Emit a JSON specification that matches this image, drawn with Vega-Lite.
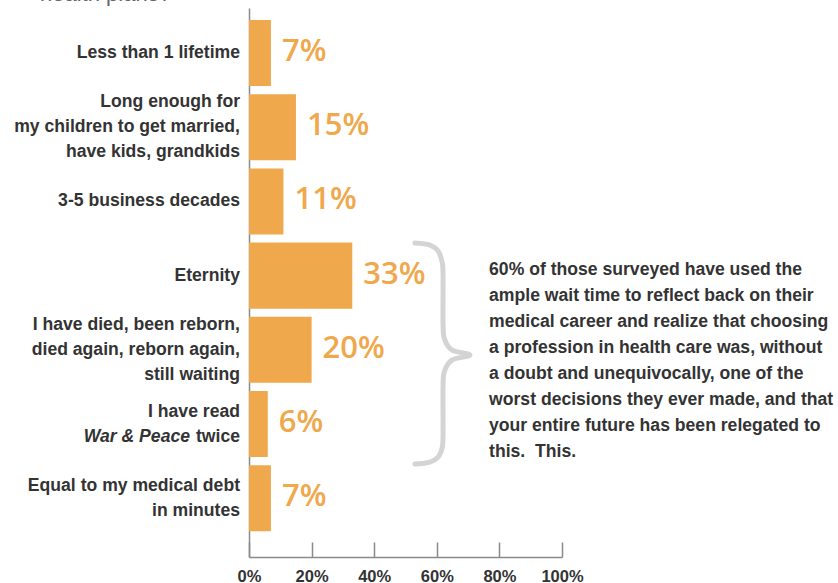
{
  "$schema": "https://vega.github.io/schema/vega-lite/v6.json",
  "autosize": "none",
  "width": 313,
  "height": 549,
  "padding": {"left": 249, "top": 8, "right": 276, "bottom": 26},
  "background": "white",
  "title": {
    "text": "health plans?",
    "anchor": "start",
    "frame": "group",
    "dx": -209,
    "offset": 2,
    "font": "Liberation Sans",
    "fontSize": 22,
    "fontWeight": "normal",
    "color": "#666666"
  },
  "params": [
    {"name": "rows", "value": ["Less than 1 lifetime", "Long enough for my children to get married, have kids, grandkids", "3-5 business decades", "Eternity", "I have died, been reborn, died again, reborn again, still waiting", "I have read War & Peace twice", "Equal to my medical debt in minutes"]}
  ],
  "datasets": {
    "answers": [
      {"label": "Less than 1 lifetime", "value": 0.07, "lines": ["Less than 1 lifetime"]},
      {"label": "Long enough for my children to get married, have kids, grandkids", "value": 0.15, "lines": ["Long enough for", "my children to get married,", "have kids, grandkids"]},
      {"label": "3-5 business decades", "value": 0.11, "lines": ["3-5 business decades"]},
      {"label": "Eternity", "value": 0.33, "lines": ["Eternity"]},
      {"label": "I have died, been reborn, died again, reborn again, still waiting", "value": 0.20, "lines": ["I have died, been reborn,", "died again, reborn again,", "still waiting"]},
      {"label": "I have read War & Peace twice", "value": 0.06, "lines": ["I have read", "twice"]},
      {"label": "Equal to my medical debt in minutes", "value": 0.07, "lines": ["Equal to my medical debt", "in minutes"]}
    ],
    "italic": [{"label": "I have read War & Peace twice", "part": "War & Peace"}],
    "note": [{"row": "I have died, been reborn, died again, reborn again, still waiting", "pos": 0.767}],
    "brace": [
      {"i": 1, "x": 0.530, "r": 3.561},
      {"i": 2, "x": 0.578, "r": 3.588},
      {"i": 3, "x": 0.604, "r": 3.668},
      {"i": 4, "x": 0.617, "r": 3.817},
      {"i": 5, "x": 0.620, "r": 3.992},
      {"i": 6, "x": 0.620, "r": 4.666},
      {"i": 7, "x": 0.626, "r": 4.868},
      {"i": 8, "x": 0.649, "r": 5.003},
      {"i": 9, "x": 0.706, "r": 5.070},
      {"i": 10, "x": 0.649, "r": 5.137},
      {"i": 11, "x": 0.626, "r": 5.272},
      {"i": 12, "x": 0.620, "r": 5.474},
      {"i": 13, "x": 0.620, "r": 6.148},
      {"i": 14, "x": 0.617, "r": 6.323},
      {"i": 15, "x": 0.604, "r": 6.445},
      {"i": 16, "x": 0.578, "r": 6.512},
      {"i": 17, "x": 0.530, "r": 6.539}
    ]
  },
  "layer": [
    {
      "data": {"name": "answers"},
      "mark": {"type": "bar", "color": "#EFA84C"},
      "encoding": {
        "x": {
          "field": "value", "type": "quantitative",
          "scale": {"domain": [0, 1], "nice": false},
          "axis": {
            "title": null, "format": ".0%", "values": [0, 0.2, 0.4, 0.6, 0.8, 1],
            "grid": false, "domainColor": "#8a8a8a", "domainWidth": 1.5,
            "tickColor": "#8a8a8a", "tickWidth": 1.5, "tickSize": -15,
            "labelPadding": 26, "labelFont": "Liberation Sans", "labelFontSize": 16.5,
            "labelFontWeight": "bold", "labelColor": "#333333", "labelFlush": false
          }
        },
        "y": {
          "field": "label", "type": "nominal",
          "scale": {"type": "band", "domain": {"signal": "rows"}, "paddingInner": 0.11, "paddingOuter": 0.2545, "align": 0.318},
          "axis": {
            "title": null, "ticks": false, "grid": false, "labels": false,
            "domainColor": "#8a8a8a", "domainWidth": 1.5
          }
        }
      }
    },
    {
      "data": {"name": "answers"},
      "transform": [{"filter": "length(datum.lines) == 1"}],
      "mark": {"type": "text", "align": "right", "baseline": "middle", "dx": -9, "dy": 0,
               "font": "Liberation Sans", "fontWeight": "bold", "fontSize": 17.6, "color": "#333333", "lineHeight": 25},
      "encoding": {
        "x": {"datum": 0, "type": "quantitative", "scale": {"domain": [0, 1], "nice": false}},
        "y": {"field": "label", "type": "nominal",
              "scale": {"type": "band", "domain": {"signal": "rows"}, "paddingInner": 0.11, "paddingOuter": 0.2545, "align": 0.318}, "axis": null},
        "text": {"field": "lines"}
      }
    },
    {
      "data": {"name": "answers"},
      "transform": [{"filter": "length(datum.lines) == 2"}],
      "mark": {"type": "text", "align": "right", "baseline": "middle", "dx": -9, "dy": -12.5,
               "font": "Liberation Sans", "fontWeight": "bold", "fontSize": 17.6, "color": "#333333", "lineHeight": 25},
      "encoding": {
        "x": {"datum": 0, "type": "quantitative", "scale": {"domain": [0, 1], "nice": false}},
        "y": {"field": "label", "type": "nominal",
              "scale": {"type": "band", "domain": {"signal": "rows"}, "paddingInner": 0.11, "paddingOuter": 0.2545, "align": 0.318}, "axis": null},
        "text": {"field": "lines"}
      }
    },
    {
      "data": {"name": "answers"},
      "transform": [{"filter": "length(datum.lines) == 3"}],
      "mark": {"type": "text", "align": "right", "baseline": "middle", "dx": -9, "dy": -25,
               "font": "Liberation Sans", "fontWeight": "bold", "fontSize": 17.6, "color": "#333333", "lineHeight": 25},
      "encoding": {
        "x": {"datum": 0, "type": "quantitative", "scale": {"domain": [0, 1], "nice": false}},
        "y": {"field": "label", "type": "nominal",
              "scale": {"type": "band", "domain": {"signal": "rows"}, "paddingInner": 0.11, "paddingOuter": 0.2545, "align": 0.318}, "axis": null},
        "text": {"field": "lines"}
      }
    },
    {
      "data": {"name": "italic"},
      "mark": {"type": "text", "align": "right", "baseline": "middle", "dx": -59, "dy": 12.5,
               "font": "Liberation Sans", "fontWeight": "bold", "fontStyle": "italic", "fontSize": 17.6, "color": "#333333"},
      "encoding": {
        "x": {"datum": 0, "type": "quantitative", "scale": {"domain": [0, 1], "nice": false}},
        "y": {"field": "label", "type": "nominal",
              "scale": {"type": "band", "domain": {"signal": "rows"}, "paddingInner": 0.11, "paddingOuter": 0.2545, "align": 0.318}, "axis": null},
        "text": {"field": "part"}
      }
    },
    {
      "data": {"name": "answers"},
      "mark": {"type": "text", "align": "left", "baseline": "middle", "dx": 11, "dy": -1,
               "font": "Open Sans", "fontWeight": 600, "fontSize": 31, "color": "#EFA84C"},
      "encoding": {
        "x": {"field": "value", "type": "quantitative", "scale": {"domain": [0, 1], "nice": false}},
        "y": {"field": "label", "type": "nominal",
              "scale": {"type": "band", "domain": {"signal": "rows"}, "paddingInner": 0.11, "paddingOuter": 0.2545, "align": 0.318}, "axis": null},
        "text": {"field": "value", "type": "quantitative", "format": ".0%"}
      }
    },
    {
      "data": {"name": "note"},
      "mark": {
        "type": "text", "align": "left", "baseline": "middle", "dy": -80,
        "font": "Liberation Sans", "fontSize": 17.6, "fontWeight": "bold", "color": "#333333",
        "lineHeight": 26,
        "text": [
          "60% of those surveyed have used the",
          "ample wait time to reflect back on their",
          "medical career and realize that choosing",
          "a profession in health care was, without",
          "a doubt and unequivocally, one of the",
          "worst decisions they ever made, and that",
          "your entire future has been relegated to",
          "this.\u00a0 This."
        ]
      },
      "encoding": {
        "x": {"field": "pos", "type": "quantitative", "scale": {"domain": [0, 1], "nice": false}},
        "y": {"field": "row", "type": "nominal",
              "scale": {"type": "band", "domain": {"signal": "rows"}, "paddingInner": 0.11, "paddingOuter": 0.2545, "align": 0.318},
              "axis": null}
      }
    },
    {
      "data": {"name": "brace"},
      "mark": {"type": "line", "color": "#d4d4d4", "strokeWidth": 5, "strokeCap": "round", "strokeJoin": "round", "interpolate": "cardinal"},
      "encoding": {
        "x": {"field": "x", "type": "quantitative", "scale": {"domain": [0, 1], "nice": false}},
        "y": {"field": "r", "type": "quantitative", "scale": {"domain": [0.3935, 7.792], "reverse": true, "nice": false, "zero": false}, "axis": null},
        "order": {"field": "i", "type": "quantitative"}
      }
    }
  ],
  "resolve": {"scale": {"y": "independent"}},
  "config": {
    "view": {"stroke": null}
  }
}
